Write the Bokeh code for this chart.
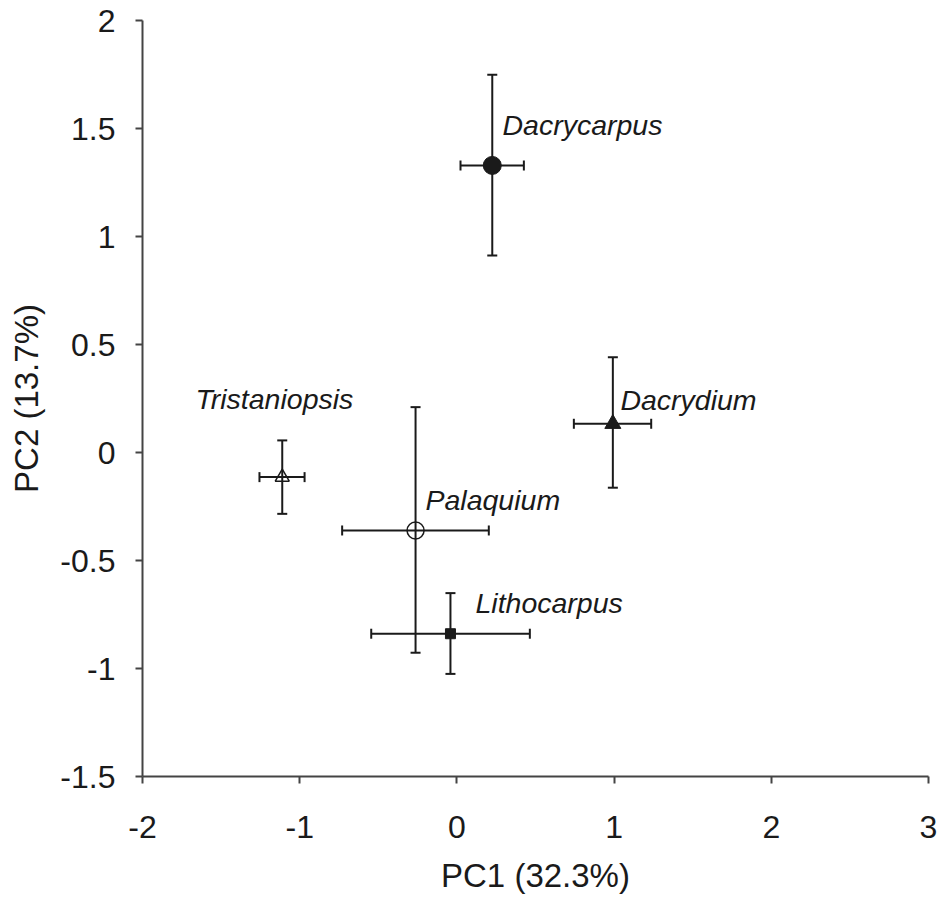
from bokeh.plotting import figure
from bokeh.models import Range1d, FixedTicker, ColumnDataSource, Whisker, TeeHead
from bokeh.core.properties import value
from bokeh.embed import file_html
from bokeh.resources import INLINE

# ---- data ----
species = ["Dacrycarpus", "Dacrydium", "Tristaniopsis", "Palaquium", "Lithocarpus"]
pc1 = [0.225, 0.992, -1.111, -0.263, -0.041]
pc2 = [1.329, 0.133, -0.114, -0.361, -0.839]
pc1_low = [0.023, 0.744, -1.256, -0.730, -0.545]
pc1_high = [0.426, 1.236, -0.969, 0.203, 0.464]
pc2_low = [0.912, -0.163, -0.284, -0.927, -1.025]
pc2_high = [1.749, 0.441, 0.056, 0.210, -0.651]
label_x = [0.29, 1.04, -1.663, -0.20, 0.118]
label_y = [1.514, 0.241, 0.250, -0.222, -0.699]
x_ticks = [-2, -1, 0, 1, 2, 3]
y_ticks = [-1.5, -1, -0.5, 0, 0.5, 1, 1.5, 2]

FONT = "Liberation Sans"
INK = "#1a1a1a"

p = figure(width=938, height=900,
           x_range=Range1d(-2, 3), y_range=Range1d(-1.5, 2),
           output_backend="svg", toolbar_location=None,
           min_border_left=142, min_border_right=10, min_border_top=20, min_border_bottom=124)
p.outline_line_color = None
p.grid.visible = False
p.background_fill_color = "white"

for ax in (p.xaxis[0], p.yaxis[0]):
    ax.axis_line_width = 2
    ax.axis_line_color = "#444444"
    ax.major_tick_line_color = "#444444"
    ax.major_tick_line_width = 2
    ax.major_tick_out = 7
    ax.major_tick_in = 0
    ax.minor_tick_line_color = None
    ax.major_label_text_font = FONT
    ax.major_label_text_font_size = "32px"
    ax.major_label_text_color = INK
    ax.axis_label_text_font = FONT
    ax.axis_label_text_font_size = "33px"
    ax.axis_label_text_font_style = "normal"
    ax.axis_label_text_color = INK

p.xaxis.ticker = FixedTicker(ticks=x_ticks)
p.yaxis.ticker = FixedTicker(ticks=y_ticks)
p.xaxis.major_label_overrides = {t: str(t) for t in x_ticks}
p.yaxis.major_label_overrides = {t: ("%g" % t) for t in y_ticks}
p.xaxis.axis_label = "PC1 (32.3%)"
p.yaxis.axis_label = "PC2 (13.7%)"
p.xaxis.major_label_standoff = 32
p.yaxis.major_label_standoff = 20
p.xaxis.axis_label_standoff = 16
p.yaxis.axis_label_standoff = 12

src = ColumnDataSource(dict(x=pc1, y=pc2, xl=pc1_low, xh=pc1_high, yl=pc2_low, yh=pc2_high,
                            lx=label_x, ly=label_y, name=species))

for dim, lo, hi, base in (("height", "yl", "yh", "x"), ("width", "xl", "xh", "y")):
    w = Whisker(source=src, base=base, lower=lo, upper=hi, dimension=dim,
                line_color=INK, line_width=2,
                lower_head=TeeHead(size=10, line_color=INK, line_width=2),
                upper_head=TeeHead(size=10, line_color=INK, line_width=2),
                level="underlay")
    p.add_layout(w)

# markers
p.scatter([pc1[0]], [pc2[0]], marker="circle", size=18, fill_color=INK, line_color=INK)
p.scatter([pc1[1]], [pc2[1]], marker="triangle", size=16, fill_color=INK, line_color=INK)
p.scatter([pc1[2]], [pc2[2]], marker="triangle", size=14, fill_alpha=0, line_color=INK, line_width=1.5)
p.scatter([pc1[3]], [pc2[3]], marker="circle", size=17, fill_alpha=0, line_color=INK, line_width=1.5)
p.scatter([pc1[4]], [pc2[4]], marker="square", size=10, fill_color=INK, line_color=INK)

p.text(x="lx", y="ly", text="name", source=src, text_font=value(FONT),
       text_font_size="28.5px", text_font_style="italic", text_color=INK,
       text_baseline="alphabetic", text_align="left")

open("out.html", "w").write(file_html(p, INLINE))
